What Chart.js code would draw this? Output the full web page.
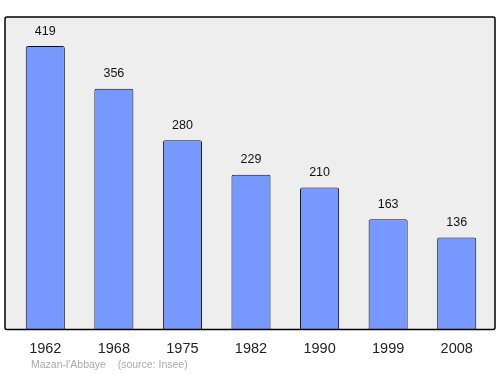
<!DOCTYPE html>
<html>
<head>
<meta charset="utf-8">
<script src="https://cdn.jsdelivr.net/npm/chart.js@4/dist/chart.umd.min.js"></script>
<style>
  html, body { margin: 0; padding: 0; background: #ffffff; }
  #wrap { position: relative; width: 500px; height: 374px; }
  #c { position: absolute; left: 0; top: 0; }
  #foot { position: absolute; left: 31px; top: 358px; font: 10.5px "Liberation Sans", Arial, sans-serif; color: #aaaaaa; white-space: pre; }
</style>
</head>
<body>
<div id="wrap">
  <canvas id="c" width="500" height="374"></canvas>
  <div id="foot">Mazan-l'Abbaye    (source: Insee)</div>
</div>
<script>
const years = ["1962", "1968", "1975", "1982", "1990", "1999", "2008"];
const population = [419, 356, 280, 229, 210, 163, 136];
const yMax = 462;

const framePlugin = {
  id: 'frame',
  beforeDraw(chart) {
    const a = chart.chartArea, ctx = chart.ctx;
    ctx.save();
    ctx.fillStyle = '#eeeeee';
    ctx.fillRect(a.left - 6, a.top, (a.right + 4) - (a.left - 6), a.bottom - a.top);
    ctx.restore();
  },
  afterDatasetsDraw(chart) {
    const a = chart.chartArea, ctx = chart.ctx;
    ctx.save();
    ctx.strokeStyle = '#000000';
    ctx.lineWidth = 1.5;
    ctx.beginPath();
    if (ctx.roundRect) {
      ctx.roundRect(a.left - 6, a.top, (a.right + 4) - (a.left - 6), a.bottom - a.top, 2);
    } else {
      ctx.rect(a.left - 6, a.top, (a.right + 4) - (a.left - 6), a.bottom - a.top);
    }
    ctx.stroke();
    const meta = chart.getDatasetMeta(0);
    ctx.fillStyle = '#111111';
    ctx.font = '12.5px "Liberation Sans", Arial, sans-serif';
    ctx.textAlign = 'center';
    ctx.textBaseline = 'middle';
    meta.data.forEach((el, i) => {
      ctx.fillText(String(chart.data.datasets[0].data[i]), el.x, el.y - 15);
    });
    ctx.restore();
  }
};

new Chart(document.getElementById('c'), {
  type: 'bar',
  data: {
    labels: years,
    datasets: [{
      data: population,
      backgroundColor: '#7799ff',
      borderColor: '#111111',
      borderWidth: 1,
      borderRadius: 2,
      borderSkipped: 'bottom',
      barPercentage: 0.57,
      categoryPercentage: 1.0
    }]
  },
  options: {
    responsive: false,
    animation: false,
    devicePixelRatio: 1,
    layout: { padding: { left: 11, right: 9, top: 17, bottom: 13 } },
    plugins: { legend: { display: false }, tooltip: { enabled: false }, title: { display: false } },
    scales: {
      x: {
        offset: true,
        grid: { display: false },
        border: { display: false },
        ticks: { color: '#222222', font: { family: '"Liberation Sans", Arial, sans-serif', size: 14.5 }, padding: 3, maxRotation: 0 }
      },
      y: {
        display: false,
        min: 0,
        max: yMax
      }
    }
  },
  plugins: [framePlugin]
});
</script>
</body>
</html>
